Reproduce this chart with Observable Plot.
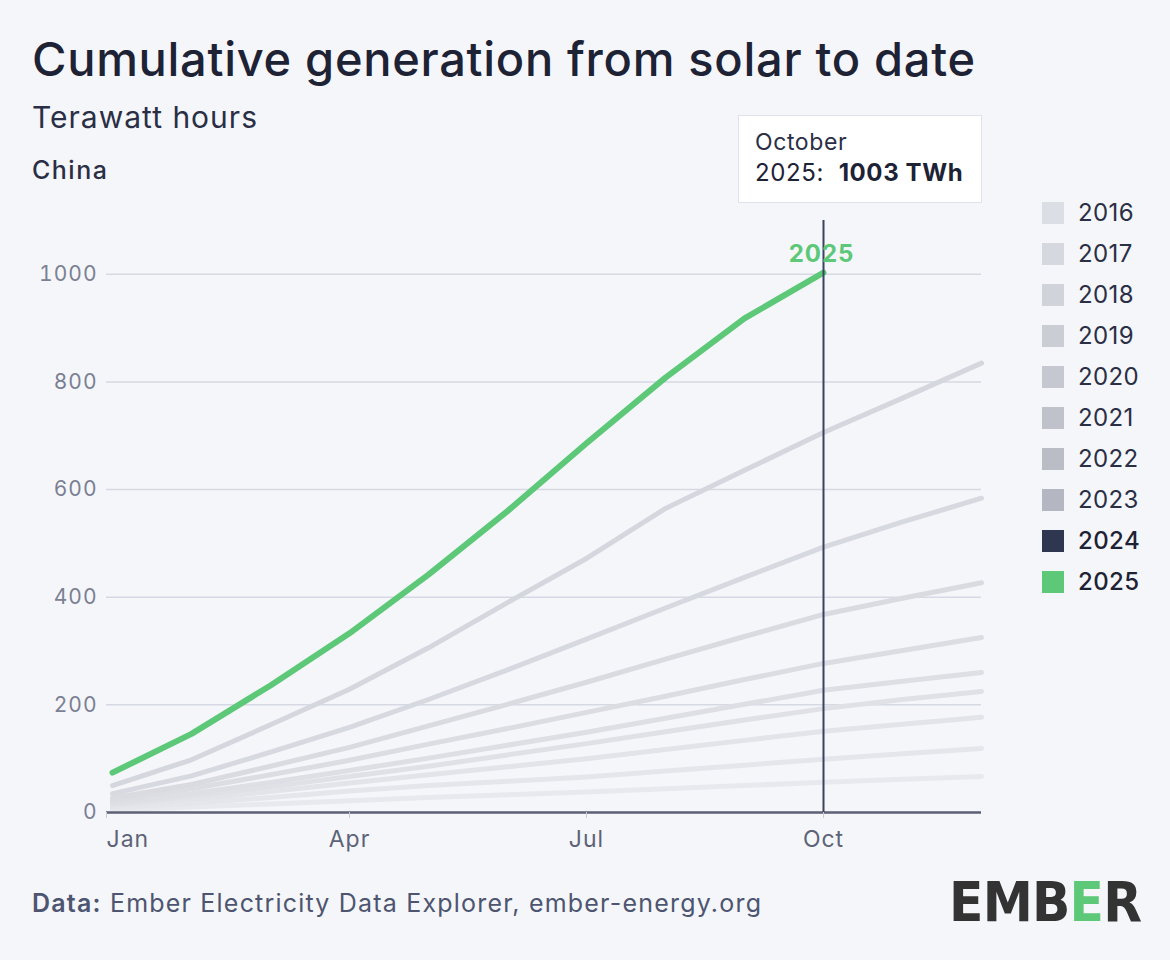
<!DOCTYPE html>
<html>
<head>
<meta charset="utf-8">
<script src="https://cdn.jsdelivr.net/npm/d3@7"></script>
<script src="https://cdn.jsdelivr.net/npm/@observablehq/plot@0.6"></script>
<style>
  body { margin: 0; background: #f5f6fa; }
  #root { position: relative; width: 1170px; height: 960px; font-family: Inter, "Noto Sans", sans-serif; color: #1e2235; overflow: hidden; }
  .abs { position: absolute; white-space: nowrap; }
  #title { left: 32px; top: 32px; font-size: 47px; font-weight: 500; line-height: 54px; letter-spacing: 0.7px; }
  #subtitle { left: 32px; top: 98px; font-size: 30px; line-height: 38px; color: #2a2f45; letter-spacing: 1px; }
  #region { left: 32px; top: 154px; font-size: 25px; font-weight: 500; line-height: 32px; color: #2a2f45; letter-spacing: 1.5px; }
  #chart { left: 0; top: 200px; }
  #tip { left: 738px; top: 115px; width: 244px; height: 88px; background: #fff; border: 1.5px solid #dfe2ea; box-sizing: border-box; }
  #tip .l1 { position: absolute; left: 16px; top: 12px; font-size: 23px; line-height: 28px; color: #2a2f45; letter-spacing: 0.6px; }
  #tip .l2 { position: absolute; left: 16px; top: 42px; font-size: 24px; line-height: 30px; color: #1e2235; letter-spacing: 0.6px; }
  #legend { left: 1042px; top: 192px; }
  .row { position: relative; height: 41px; display: flex; align-items: center; }
  .sw { width: 22px; height: 22px; margin-right: 14px; }
  .row span { font-size: 24px; color: #2a2f45; letter-spacing: 0.4px; }
  #footer { left: 32px; top: 886px; font-size: 25px; line-height: 34px; color: #4d5570; letter-spacing: 1.2px; }
  #logo { left: 949px; top: 870px; font-family: "DejaVu Sans Condensed", "DejaVu Sans", sans-serif; font-weight: 700; font-size: 56px; line-height: 64px; color: #333333; letter-spacing: -0.8px; }
</style>
</head>
<body>
<div id="root">
  <div id="title" class="abs">Cumulative generation from solar to date</div>
  <div id="subtitle" class="abs">Terawatt hours</div>
  <div id="region" class="abs">China</div>
  <div id="chart" class="abs"></div>
  <div id="tip" class="abs">
    <div class="l1">October</div>
    <div class="l2">2025:&nbsp; <b>1003 TWh</b></div>
  </div>
  <div id="legend" class="abs"></div>
  <div id="footer" class="abs"><b style="font-weight:600">Data:</b> Ember Electricity Data Explorer, ember-energy.org</div>
  <div id="logo" class="abs">EMB<span style="color:#5cc878">E</span>R</div>
</div>
<script>
// ---- Data (cumulative TWh, by month) ----
const months = ["Jan","Feb","Mar","Apr","May","Jun","Jul","Aug","Sep","Oct","Nov","Dec"];
const years = ["2016","2017","2018","2019","2020","2021","2022","2023","2024","2025"];
const v2016 = [5, 10, 16, 22, 28, 33, 38, 44, 50, 56, 62, 67];
const v2017 = [8, 17, 28, 40, 50, 58, 66, 77, 88, 99, 109, 119];
const v2018 = [12, 24, 39, 55, 70, 85, 100, 117, 134, 151, 164, 177];
const v2019 = [15, 30, 48, 67, 86, 107, 128, 150, 172, 193, 210, 225];
const v2020 = [18, 35, 56, 78, 101, 125, 149, 175, 201, 227, 244, 260];
const v2021 = [22, 44, 70, 97, 127, 156, 186, 216, 247, 277, 301, 325];
const v2022 = [27, 52, 86, 121, 161, 201, 242, 285, 327, 368, 398, 427];
const v2023 = [35, 68, 112, 158, 210, 265, 322, 380, 437, 493, 540, 584];
const v2024 = [50, 98, 163, 229, 306, 390, 472, 565, 636, 706, 770, 835];
const v2025 = [74, 146, 236, 333, 442, 560, 686, 808, 918, 1003];
const yTicks = [0, 200, 400, 600, 800, 1000];
const xTicks = ["Jan", "Apr", "Jul", "Oct"];
const legendColors = ["#dcdee5","#d6d8df","#d0d3da","#cbcdd5","#c5c8d0","#c0c2cb","#babdc6","#b4b7c2","#2e3650","#5cc878"];
const lineColors = ["#e8e9ee","#e5e6eb","#e2e4e9","#e0e1e7","#dddfe5","#dbdde3","#d9dbe1","#d7d9e0","#d5d7de"];

const series = [v2016, v2017, v2018, v2019, v2020, v2021, v2022, v2023, v2024];
const greyRows = [];
series.forEach((vals, i) => vals.forEach((v, m) => greyRows.push({year: years[i], m, value: v})));
const greenRows = v2025.map((v, m) => ({year: "2025", m, value: v}));
const last = greenRows[greenRows.length - 1];

const axisStyle = {tickSize: 6, tickPadding: 12, stroke: "#c9ccd6", fontSize: 23, fill: "#5d6377", tickFormat: i => months[i], label: null};

const chart = Plot.plot({
  width: 1170,
  height: 660,
  marginLeft: 106,
  marginRight: 189,
  marginTop: 20,
  marginBottom: 48,
  style: {background: "transparent", fontFamily: "Inter, 'Noto Sans', sans-serif", letterSpacing: "1px"},
  x: {type: "linear", domain: [0, 11], insetLeft: 6},
  y: {domain: [0, 1100]},
  color: {domain: years.slice(0, 9), range: lineColors},
  marks: [
    Plot.gridY(yTicks, {stroke: "#d6d9e3", strokeOpacity: 1, strokeWidth: 1.5}),
    Plot.axisY(yTicks, {tickSize: 0, tickPadding: 9, fontSize: 21, fill: "#7b8093", tickFormat: d => String(d), label: null, style: {letterSpacing: "2.5px"}}),
    Plot.line(greyRows, {x: "m", y: "value", z: "year", stroke: "year", strokeWidth: 5, strokeLinecap: "round", strokeLinejoin: "round"}),
    Plot.ruleY([0], {stroke: "#5c6175", strokeWidth: 2.5}),
    Plot.axisX([0], {...axisStyle, textAnchor: "start", dx: -6}),
    Plot.axisX(xTicks.slice(1).map(t => months.indexOf(t)), axisStyle),
    Plot.line(greenRows, {x: "m", y: "value", stroke: "#5cc878", strokeWidth: 6, strokeLinecap: "round", strokeLinejoin: "round"}),
    Plot.ruleX([last.m], {y1: 0, y2: 1100, stroke: "#3b4260", strokeWidth: 2}),
    Plot.text([last], {x: "m", y: "value", text: d => d.year, dy: -18, dx: -2, fill: "#5cc878", fontSize: 24, fontWeight: 700})
  ]
});
document.getElementById("chart").appendChild(chart);

const legend = document.getElementById("legend");
years.forEach((y, i) => {
  const row = document.createElement("div");
  row.className = "row";
  row.innerHTML = `<div class="sw" style="background:${legendColors[i]}"></div><span${i >= 8 ? ' style="color:#1e2235;font-weight:500"' : ''}>${y}</span>`;
  legend.appendChild(row);
});
</script>
</body>
</html>
